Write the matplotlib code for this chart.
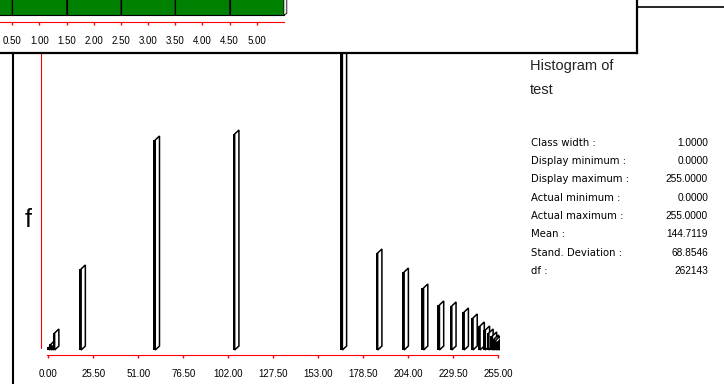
import numpy as np
import matplotlib
matplotlib.use("Agg")
import matplotlib.pyplot as plt
from matplotlib.lines import Line2D

W, H = 724, 384

# histogram of test (grey levels 0-255); counts
bins = [0, 1, 2, 3, 18, 60, 105, 166, 186, 201, 212, 221, 228, 235, 240,
        244, 247, 249, 251, 252, 253, 254, 255]
counts = [570, 1130, 760, 3210, 15310, 39690, 40820, 64260, 18330, 14740,
          11720, 8510, 8320, 7180, 6050, 4540, 3780, 3210, 2650, 2080, 1890,
          1510, 1510]
tick_vals = np.arange(0, 255.1, 25.5)

# window lying over the top of the chart (green bars are cut off)
top_cats = [0, 1, 2, 3, 4, 5]
top_counts = [60, 60, 60, 60, 60, 60]
top_ticks = np.arange(0.5, 5.01, 0.5)

stat_names = ["Class width :", "Display minimum :", "Display maximum :",
              "Actual minimum :", "Actual maximum :", "Mean :",
              "Stand. Deviation :", "df :"]
stat_vals = ["1.0000", "0.0000", "255.0000", "0.0000", "255.0000",
             "144.7119", "68.8546", "262143"]


def box(x0, y0, x1, y1):
    # pixel box (from top left) -> figure fraction rect
    return [x0 / W, 1 - y1 / H, (x1 - x0) / W, (y1 - y0) / H]


fig = plt.figure(figsize=(W / 100, H / 100), dpi=100)
fig.patch.set_facecolor("white")

# main histogram
k = 189.0  # counts per pixel
ax = fig.add_axes(box(41.4, 53, 500, 355))
ax.set_xlim(-3.9, 255.9)
ax.set_ylim(-5 * k, 297 * k)
dx, dy = 2.4, 4 * k
for x, c in zip(bins, counts):
    ax.bar(x, c, width=1.2, color="black", linewidth=0)
    ax.fill([x + 0.6, x + 0.6, x + 0.6 + dx, x + 0.6 + dx], [0, c, c + dy, dy],
            facecolor="white", edgecolor="black", linewidth=1.1)
for s in ["top", "right"]:
    ax.spines[s].set_visible(False)
ax.spines["left"].set_color("red")
ax.spines["left"].set_bounds(2 * k, 297 * k)
ax.spines["bottom"].set_color("red")
ax.spines["bottom"].set_bounds(-0.7, 255)
ax.set_yticks([])
ax.set_xticks(tick_vals)
ax.set_xticklabels(["%.2f" % v for v in tick_vals], family="Liberation Sans")
ax.tick_params(axis="x", colors="red", labelcolor="black", length=2.5,
               width=1, pad=7.5, labelsize=7)

fig.text(28 / W, 1 - 220 / H, "f", fontsize=18, ha="center", va="center",
         family="Liberation Sans")

# overlapping window at the top
win = fig.add_axes(box(-3, -3, 637, 53), zorder=5)
win.set_facecolor("white")
win.set_xticks([])
win.set_yticks([])
for s in win.spines.values():
    s.set_linewidth(1.6)
    s.set_color("black")

s_px = 54.3
tax = fig.add_axes(box(0, 0, 637, 21.5), zorder=6)
tax.set_facecolor("none")
tax.set_xlim(0.5 - 12.3 / s_px, 0.5 + 624.7 / s_px)
tax.set_ylim(-6.5, 15)
tdx, tdy = 3 / s_px, 1.5
for x, c in zip(top_cats, top_counts):
    tax.bar(x, c, width=1.0, color="#008000", edgecolor="black", linewidth=0.8)
    tax.fill([x + 0.5, x + 0.5, x + 0.5 + tdx, x + 0.5 + tdx],
             [0, c, c + tdy, tdy], facecolor="#f0f0f0", edgecolor="black",
             linewidth=0.6)
for s in ["top", "right", "left"]:
    tax.spines[s].set_visible(False)
tax.spines["bottom"].set_color("red")
tax.spines["bottom"].set_bounds(0.5 - 12.3 / s_px, 5.5)
tax.set_yticks([])
tax.set_xticks(top_ticks)
tax.set_xticklabels(["%.2f" % v for v in top_ticks], family="Liberation Sans")
tax.tick_params(axis="x", colors="red", labelcolor="black", length=1.8,
                width=1, pad=9, labelsize=7)

# window edges behind
fig.add_artist(Line2D([13 / W, 13 / W], [0, 1 - 53 / H], color="black", lw=1.5))
fig.add_artist(Line2D([637 / W, 1], [1 - 7 / H, 1 - 7 / H], color="black", lw=1.2))

# title and statistics
fig.text(530 / W, 1 - 70 / H, "Histogram of", fontsize=10.5, va="baseline",
         family="Liberation Sans", color="#222222")
fig.text(530 / W, 1 - 94 / H, "test", fontsize=10.5, va="baseline",
         family="Liberation Sans", color="#222222")
for i, (name, val) in enumerate(zip(stat_names, stat_vals)):
    yb = 1 - (145.7 + i * 18.33) / H
    fig.text(531 / W, yb, name, fontsize=7.3, va="baseline", family="DejaVu Sans")
    fig.text(708 / W, yb, val, fontsize=7.3, va="baseline", ha="right",
             family="Liberation Sans")

fig.savefig("out.png", dpi=100)
